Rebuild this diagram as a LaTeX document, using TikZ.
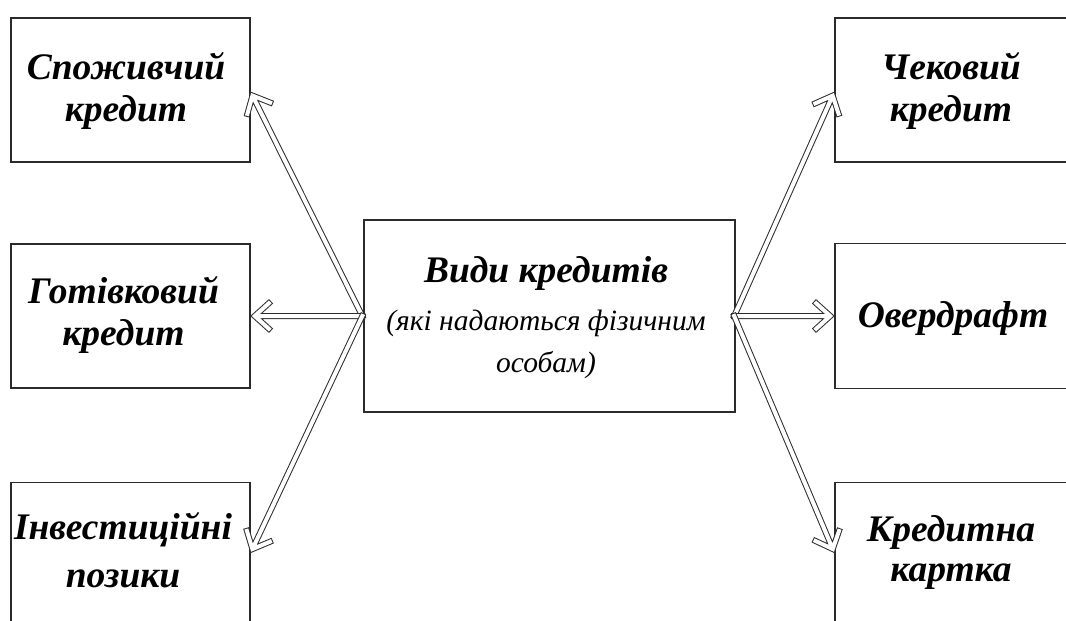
\documentclass[tikz,border=0pt]{standalone}
\usepackage{fontspec}
\setmainfont{Liberation Serif}
\usetikzlibrary{calc}
\definecolor{ln}{HTML}{2B2B2B}
\tikzset{
  box/.style={draw=ln, line width=1.4pt, fill=white, inner sep=0pt},
  lbl/.style={align=center, inner sep=0pt, font=\fontsize{37.5}{42}\selectfont\bfseries\itshape},
  hol/.style={draw=ln, line width=1pt, double=white, double distance=4pt,
    line cap=rect, line join=miter}
}
\newcommand\hollowarrow[2]{%
  \coordinate (ht) at ($(#2)!4pt!(#1)$);
  \draw[hol] ($(ht)!5pt!(#1)$) -- (#1)
    ($(ht)!19pt!42:(#1)$) -- (ht) -- ($(ht)!19pt!-42:(#1)$);}
\begin{document}
\begin{tikzpicture}[x=1pt,y=-1pt]
\useasboundingbox (0,0) rectangle (1066,621);
% left boxes
\node[box, minimum width=239pt, minimum height=144pt] (tl) at (130.5,90) {};
\node[lbl] (tlt) at (126,91) {Споживчий\\кредит};
\node[box, minimum width=239pt, minimum height=144pt] (ml) at (130.5,316) {};
\node[lbl] (mlt) at (123.5,315) {Готівковий\\кредит};
\node[box, minimum width=239pt, minimum height=170pt, anchor=north] (bl) at (130.5,482) {};
\node[lbl] (blt) at (123,550) {Інвестиційні\\[6pt]позики};
% right boxes
\node[box, minimum width=235pt, minimum height=144pt] (tr) at (952.5,90) {};
\node[lbl] (trt) at (951,91) {Чековий\\кредит};
\node[box, minimum width=235pt, minimum height=145pt] (mr) at (952.5,316) {};
\node[lbl] (mrt) at (953,318) {Овердрафт};
\node[box, minimum width=235pt, minimum height=170pt, anchor=north] (br) at (952.5,482) {};
\node[lbl] (brt) at (951,552) {Кредитна\\[-2pt]картка};
% centre
\node[box, minimum width=371pt, minimum height=192pt] (c) at (549.5,316) {};
\node[align=center, inner sep=0pt] (ct) at (546,318)
  {\fontsize{37.5}{44}\selectfont\bfseries\itshape Види кредитів\\[18pt]
   \fontsize{29.5}{43}\selectfont\itshape (які надаються фізичним\\[14pt]
   \fontsize{29.5}{43}\selectfont\itshape особам)};
% arrows
\coordinate (cl) at ([xshift=-1pt]c.west);
\coordinate (cr) at ([xshift=-1.5pt]c.east);
\hollowarrow{cl}{$(tl.east)+(0,2)$}
\hollowarrow{cl}{ml.east}
\hollowarrow{cl}{$(bl.east)+(0,-15)$}
\hollowarrow{cr}{$(tr.west)+(0,2)$}
\hollowarrow{cr}{mr.west}
\hollowarrow{cr}{$(br.west)+(0,-15)$}
\end{tikzpicture}
\end{document}
